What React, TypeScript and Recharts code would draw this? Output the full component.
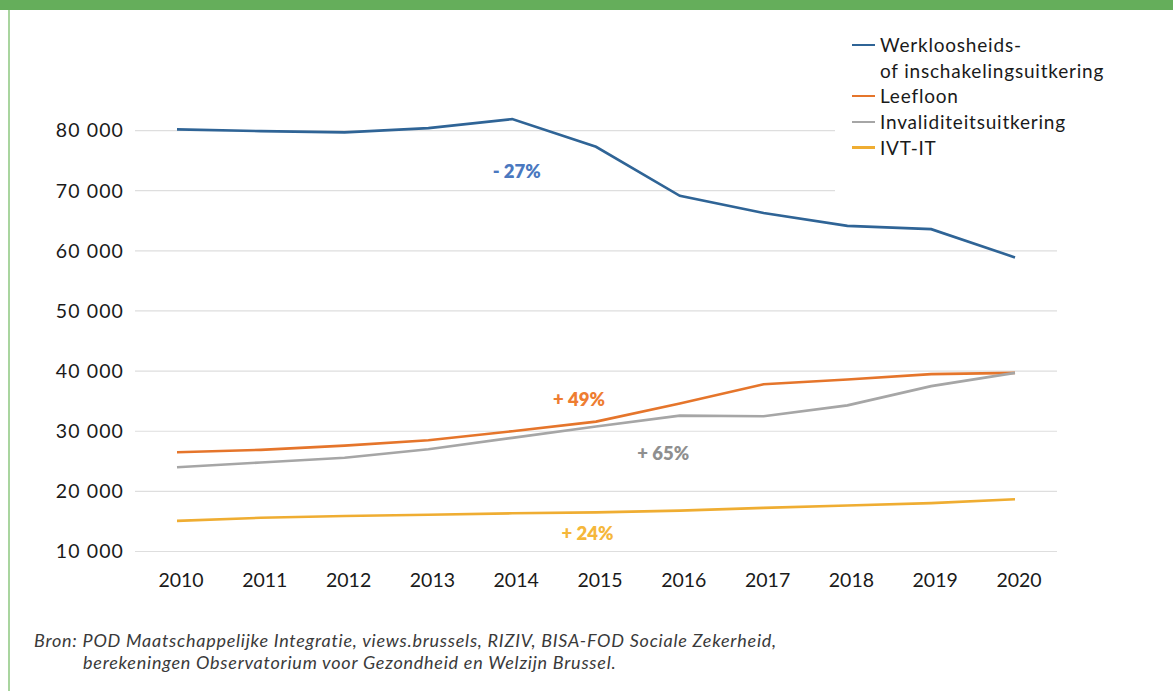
import React from "react";
import { LineChart, Line, XAxis, YAxis, CartesianGrid, ReferenceDot } from "recharts";

const years = ["2010", "2011", "2012", "2013", "2014", "2015", "2016", "2017", "2018", "2019", "2020"];
const werkloosheid = [80200, 79900, 79700, 80400, 81900, 77300, 69150, 66300, 64150, 63600, 58900];
const leefloon = [26500, 26900, 27600, 28500, 30000, 31600, 34600, 37800, 38600, 39500, 39700];
const invaliditeit = [24000, 24800, 25600, 27000, 28900, 30800, 32600, 32500, 34300, 37500, 39700];
const ivtit = [15100, 15600, 15900, 16100, 16350, 16500, 16800, 17250, 17650, 18050, 18700];
const yTicks = [10000, 20000, 30000, 40000, 50000, 60000, 70000, 80000];

const seriesNames = ["Werkloosheids-\nof inschakelingsuitkering", "Leefloon", "Invaliditeitsuitkering", "IVT-IT"];
const seriesKeys = ["werk", "leef", "inval", "ivt"];
const seriesColors = ["#2f6496", "#e5752b", "#a6a6a6", "#efad32"];

const annotations = [
  { x: "2014", y: 73180, dx: 4.5, text: "- 27%", color: "#4a78bf" },
  { x: "2015", y: 35340, dx: -17, text: "+ 49%", color: "#ee7d31" },
  { x: "2016", y: 26400, dx: -16.5, text: "+ 65%", color: "#8f8f8f" },
  { x: "2015", y: 12950, dx: -8.5, text: "+ 24%", color: "#f5b73b" },
];

const data = years.map((y, i) => ({
  year: y,
  werk: werkloosheid[i],
  leef: leefloon[i],
  inval: invaliditeit[i],
  ivt: ivtit[i],
}));

const FONT = "Lato, 'DejaVu Sans', sans-serif";
const fmt = (v: number) => {
  const s = String(v);
  return s.slice(0, s.length - 3) + " " + s.slice(s.length - 3);
};

const AnnLabel = (props: any) => {
  const { viewBox, value, fill, dx } = props;
  const cx = viewBox.x + (viewBox.width || 0) / 2 + dx;
  const cy = viewBox.y + (viewBox.height || 0) / 2;
  return (
    <text x={cx} y={cy} dy="0.36em" textAnchor="middle" fill={fill} fontFamily={FONT} fontWeight={800} fontSize={18.5}>
      {value}
    </text>
  );
};

export default function App() {
  return (
    <div style={{ position: "absolute", left: 0, top: 0, width: 1173, height: 691, background: "#fff", overflow: "hidden" }}>
      <div style={{ position: "absolute", left: 0, top: 0, width: 1173, height: 10, background: "#65ae5b" }} />
      <div style={{ position: "absolute", left: 8, top: 10, width: 2, height: 681, background: "#a9d59f" }} />
      <div style={{ position: "absolute", left: 0, top: 0 }}>
        <LineChart
          width={1173}
          height={691}
          data={data}
          margin={{ top: 70.4, right: 116, bottom: 109.5, left: 75 }}
        >
          <CartesianGrid vertical={false} stroke="#dedede" strokeWidth={1.2} horizontalValues={yTicks} />
          <XAxis
            dataKey="year"
            axisLine={false}
            tickLine={false}
            padding={{ left: 42, right: 42 }}
            tickSize={0}
            tickMargin={22}
            height={30}
            interval={0}
            dx={4}
            tick={{ fill: "#1a1a1a", fontSize: 19.5, fontFamily: FONT }}
          />
          <YAxis
            width={60}
            domain={[10000, 90000]}
            ticks={yTicks}
            axisLine={false}
            tickLine={false}
            tickSize={0}
            tickMargin={11}
            tickFormatter={fmt}
            tick={{ fill: "#1a1a1a", fontSize: 19.5, fontFamily: FONT, letterSpacing: 1.1 }}
          />
          {seriesKeys.map((k, i) => (
            <Line
              key={k}
              type="linear"
              dataKey={k}
              stroke={seriesColors[i]}
              strokeWidth={2.6}
              dot={false}
              activeDot={false}
              isAnimationActive={false}
            />
          ))}
          {annotations.map((a, i) => (
            <ReferenceDot
              key={i}
              x={a.x}
              y={a.y}
              r={0}
              fill="none"
              stroke="none"
              ifOverflow="visible"
              label={<AnnLabel value={a.text} fill={a.color} dx={a.dx} />}
            />
          ))}
        </LineChart>
      </div>
      <div
        style={{
          position: "absolute",
          left: 835,
          top: 22,
          width: 330,
          height: 172,
          background: "#fff",
          fontFamily: FONT,
          fontSize: 19,
          letterSpacing: 0.8,
          color: "#1a1a1a",
        }}
      >
        {seriesNames.map((n, i) => {
          const lines = n.split("\n");
          const top = i === 0 ? 10 : 10 + (i + 1) * 25.7;
          return (
            <div key={i} style={{ position: "absolute", left: 0, top: top, width: 330 }}>
              <div
                style={{
                  position: "absolute",
                  left: 17,
                  top: 11.5,
                  width: 23,
                  height: 2.6,
                  background: seriesColors[i],
                }}
              />
              {lines.map((l, j) => (
                <div
                  key={j}
                  style={{ position: "absolute", left: 45, top: j * 25.7, lineHeight: "25.7px", whiteSpace: "nowrap" }}
                >
                  {l}
                </div>
              ))}
            </div>
          );
        })}
      </div>
      <div
        style={{
          position: "absolute",
          left: 34,
          top: 630,
          fontFamily: FONT,
          fontStyle: "italic",
          fontSize: 18,
          letterSpacing: 0.75,
          color: "#3a3a3a",
          lineHeight: "21.6px",
          whiteSpace: "nowrap",
        }}
      >
        <div>Bron: POD Maatschappelijke Integratie, views.brussels, RIZIV, BISA-FOD Sociale Zekerheid,</div>
        <div style={{ paddingLeft: 49 }}>berekeningen Observatorium voor Gezondheid en Welzijn Brussel.</div>
      </div>
    </div>
  );
}
